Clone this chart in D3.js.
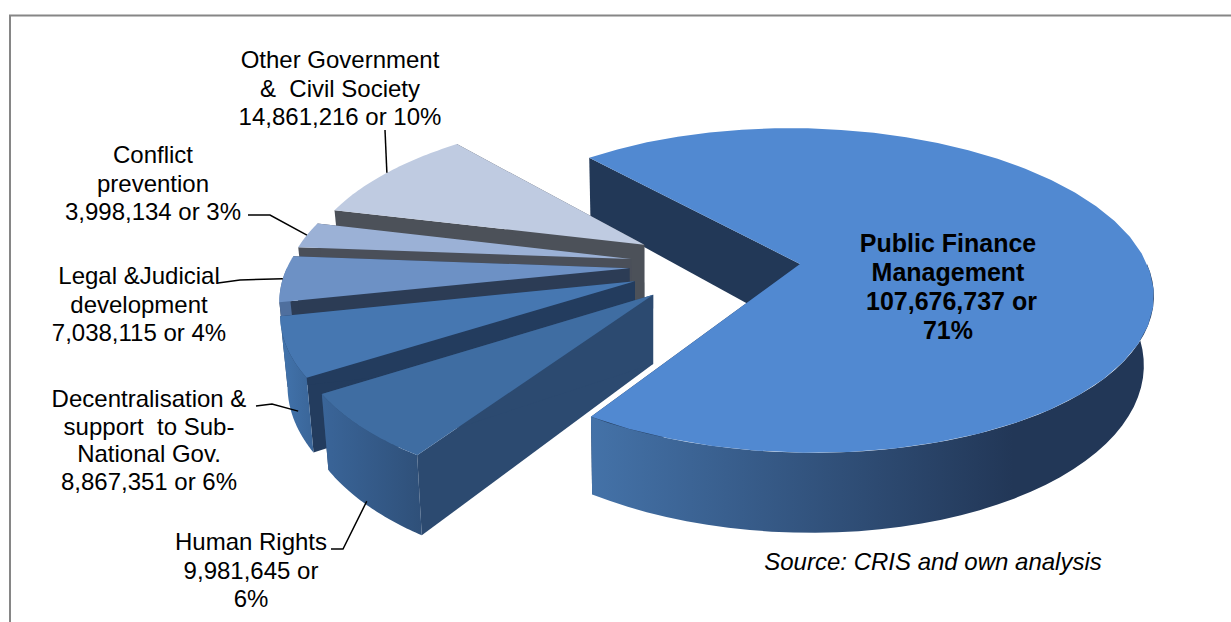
<!DOCTYPE html>
<html>
<head>
<meta charset="utf-8">
<script src="https://cdnjs.cloudflare.com/ajax/libs/d3/7.8.5/d3.min.js"></script>
<style>
  html, body { margin: 0; padding: 0; background: #fff; }
  text { font-family: "Liberation Sans", Arial, sans-serif; fill: #000; white-space: pre; }
</style>
</head>
<body>
<div id="chart"></div>
<script>
// data, clockwise from the big slice
var names = ["Public Finance Management", "Human Rights", "Decentralisation", "Legal", "Conflict prevention", "Other"];
var values = [107676737, 9981645, 8867351, 7038115, 3998134, 14861216];

var topColors = ["#5189d1", "#3f6da2", "#4677b1", "#6d91c5", "#9bb1d6", "#bfcbe1"];
var wallColors = ["#223857", "#2c4a70", "#233c5e", "#2c3c55", "#4a4f59", "#4c5159"];
var sideColors = [["#4472a8", "#223757"], ["#3a6599", "#2f5079"], ["#4274ad", "#3a6598"], ["#4f6f9e", "#4f6f9e"], ["#7a8eab", "#7a8eab"], ["#9aa5b8", "#9aa5b8"]];

var labelLines = [
  ["Public Finance", "Management", " 107,676,737 or", "71%"],
  ["Human Rights", "9,981,645 or", "6%"],
  ["Decentralisation &", "support  to Sub-", "National Gov.", "8,867,351 or 6%"],
  ["Legal &Judicial", "development", "7,038,115 or 4%"],
  ["Conflict", "prevention", "3,998,134 or 3%"],
  ["Other Government", "&  Civil Society", "14,861,216 or 10%"]
];
var labelX = [948, 251, 149, 139, 153, 340];
var labelY = [252, 550, 407, 284, 163, 68];
var labelRow = [29, 28.5, 27.7, 28.5, 28.5, 28.5];
var leaderElbows = [null, [[331, 549], [343, 549]], [[256, 406], [272, 404]], [[218, 283], [240, 280]], [[248, 215], [270, 215]], [[385, 130]]];
var leaderAt = [0.5, 0.5, 0.3, 0.5, 0.5, 0.5];
var leaderDepth = [0, 0.95, 0.7, 0, 0, 0];

var w = 1231;
var h = 622;

// pie plane seen in perspective: (u,v) unit circle coords, z 0..1 down the thickness
var apexX = 800, apexY = 264;
var b = 347, c = 12, a = 158, p = 0.163, depth = 67;
var drift = 0.02, driftX = 650;
// the small slices fan out from a common point left of the big one
var groupU = -0.236, groupV = 0.009, explode = 0.255, smallRadius = 0.983;
var startAngle = -41 * Math.PI / 180;

function project(u, v, z) {
  var k = 1 / (1 - p * v);
  var x = apexX + (b * u + c * v) * k;
  return [x + (driftX - x) * drift * z, apexY + (a * v + depth * z) * k];
}

var svg = d3.select("#chart").append("svg").attr("width", w).attr("height", h).style("display", "block");
var defs = svg.append("defs");

var slices = d3.pie().sort(null).value(function(d) { return d; })
  .startAngle(startAngle).endAngle(startAngle + 2 * Math.PI)(values);

slices.forEach(function(s, i) {
  var mid = (s.startAngle + s.endAngle) / 2;
  s.r = i === 0 ? 1 : smallRadius;
  s.cu = i === 0 ? 0 : groupU + explode * Math.sin(mid);
  s.cv = i === 0 ? 0 : groupV - explode * Math.cos(mid);
});

function onRim(s, t, z) {
  return project(s.cu + s.r * Math.sin(t), s.cv - s.r * Math.cos(t), z);
}

function rim(s, z, t0, t1) {
  return d3.range(0, 41).map(function(i) {
    return onRim(s, t0 + (t1 - t0) * i / 40, z);
  });
}

var line = d3.line();

function drawWalls(s, i) {
  [s.startAngle, s.endAngle].forEach(function(t) {
    svg.append("path")
      .attr("d", line([project(s.cu, s.cv, 0), onRim(s, t, 0), onRim(s, t, 1), project(s.cu, s.cv, 1)]) + "Z")
      .attr("fill", wallColors[i]);
  });
}

function drawRim(s, i) {
  // only the front half of the outside faces the viewer
  var t0 = Math.max(s.startAngle, 0.5 * Math.PI);
  var t1 = Math.min(s.endAngle, 1.5 * Math.PI);
  if (t0 >= t1) return;
  var grad = defs.append("linearGradient").attr("id", "side" + i);
  grad.append("stop").attr("offset", "0%").attr("stop-color", sideColors[i][0]);
  grad.append("stop").attr("offset", i === 0 ? "75%" : "100%").attr("stop-color", sideColors[i][1]);
  svg.append("path")
    .attr("d", line(rim(s, 0, t0, t1).concat(rim(s, 1, t0, t1).reverse())) + "Z")
    .attr("fill", "url(#side" + i + ")");
}

function drawTop(s, i) {
  svg.append("path")
    .attr("d", line([project(s.cu, s.cv, 0)].concat(rim(s, 0, s.startAngle, s.endAngle))) + "Z")
    .attr("fill", topColors[i]);
}

// back to front
drawWalls(slices[0], 0);
for (var i = slices.length - 1; i >= 1; i--) {
  drawWalls(slices[i], i);
  drawRim(slices[i], i);
  drawTop(slices[i], i);
}
drawRim(slices[0], 0);
drawTop(slices[0], 0);

// frame, right and bottom are cut off in the picture
svg.append("path")
  .attr("d", "M10,622V15.5H1231")
  .attr("fill", "none")
  .attr("stroke", "#868686")
  .attr("stroke-width", 2);

// leader lines end on the slice they belong to
slices.forEach(function(s, i) {
  if (!leaderElbows[i]) return;
  var t = s.startAngle + (s.endAngle - s.startAngle) * leaderAt[i];
  svg.append("path")
    .attr("d", line(leaderElbows[i].concat([onRim(s, t, leaderDepth[i])])))
    .attr("fill", "none")
    .attr("stroke", "#000")
    .attr("stroke-width", 1.5);
});

labelLines.forEach(function(lines, i) {
  var t = svg.append("text")
    .attr("text-anchor", "middle")
    .attr("font-size", i === 0 ? "25px" : "24px")
    .attr("font-weight", i === 0 ? "bold" : "normal");
  lines.forEach(function(l, j) {
    t.append("tspan")
      .attr("x", labelX[i])
      .attr("y", labelY[i] + j * labelRow[i])
      .text(l);
  });
});

svg.append("text")
  .attr("x", 933)
  .attr("y", 570)
  .attr("text-anchor", "middle")
  .attr("font-size", "24px")
  .attr("font-style", "italic")
  .text("Source: CRIS and own analysis");
</script>
</body>
</html>
